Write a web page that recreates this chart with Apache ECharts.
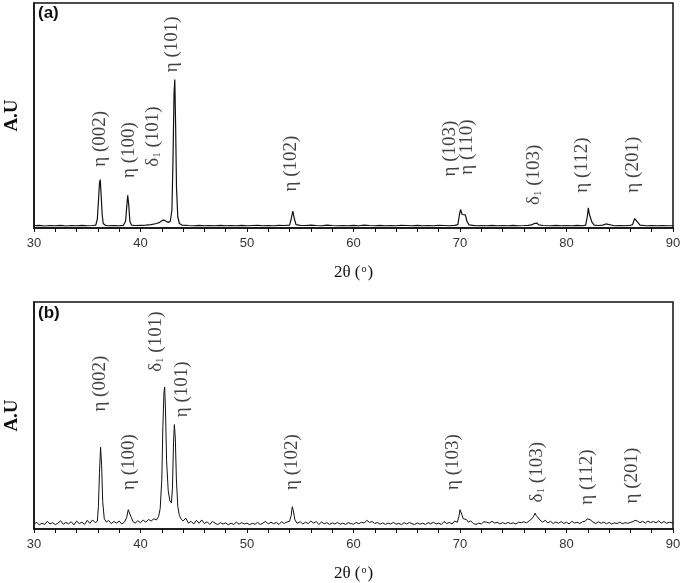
<!DOCTYPE html>
<html>
<head>
<meta charset="utf-8">
<script src="https://cdn.jsdelivr.net/npm/echarts@6/dist/echarts.min.js"></script>
<style>
  html, body { margin: 0; padding: 0; background: #fff; }
  #chart { width: 685px; height: 583px; }
</style>
</head>
<body>
<div id="chart"></div>
<script>
// scan (a): [2θ, intensity], intensity in arbitrary units 0..100
const scanA = [
  [30.0, 1.0], [30.5, 1.2], [31.0, 0.9], [31.5, 1.1], [32.0, 1.0], [32.5, 1.2], [33.0, 0.9], [33.5, 1.1],
  [34.0, 1.0], [34.5, 1.2], [35.0, 1.0], [35.5, 1.1], [35.8, 1.3], [35.95, 4], [36.05, 12], [36.15, 20],
  [36.22, 21.5], [36.3, 15], [36.4, 6], [36.5, 2], [36.7, 1.2], [37.0, 1.0], [37.5, 1.1], [38.0, 1.0],
  [38.4, 1.2], [38.6, 3], [38.7, 9], [38.8, 14.5], [38.9, 10], [39.0, 3], [39.15, 1.3], [39.5, 1.1],
  [40.0, 1.2], [40.5, 1.3], [41.0, 1.5], [41.5, 2.0], [41.8, 2.5], [42.0, 3.2], [42.2, 3.6], [42.4, 3.0],
  [42.6, 2.5], [42.8, 3.0], [42.95, 8], [43.05, 30], [43.15, 60], [43.22, 66], [43.3, 45], [43.38, 18],
  [43.5, 5], [43.65, 2], [43.9, 1.3], [44.5, 1.1], [45.0, 1.0], [45.5, 1.2], [46.0, 1.0], [46.5, 1.1],
  [47.0, 1.0], [47.5, 1.2], [48.0, 1.0], [48.5, 1.1], [49.0, 1.0], [49.5, 1.2], [50.0, 1.0], [50.5, 1.1],
  [51.0, 1.2], [51.5, 1.0], [52.0, 1.1], [52.5, 1.0], [53.0, 1.2], [53.5, 1.1], [54.0, 1.3], [54.15, 4],
  [54.3, 7.5], [54.45, 4], [54.6, 1.5], [55.0, 1.2], [55.5, 1.1], [56.0, 1.3], [56.5, 1.1], [57.0, 1.0],
  [57.5, 1.3], [58.0, 1.1], [58.5, 1.0], [59.0, 1.1], [59.5, 1.0], [60.0, 1.2], [60.5, 1.0], [61.0, 1.3],
  [61.5, 1.1], [62.0, 1.0], [62.5, 1.2], [63.0, 1.0], [63.5, 1.1], [64.0, 1.0], [64.5, 1.2], [65.0, 1.1],
  [65.5, 1.0], [66.0, 1.2], [66.5, 1.0], [67.0, 1.1], [67.5, 1.0], [68.0, 1.2], [68.5, 1.1], [69.0, 1.0],
  [69.5, 1.2], [69.8, 1.5], [69.95, 6], [70.05, 8.2], [70.2, 6], [70.35, 5.5], [70.5, 5.8], [70.65, 3],
  [70.85, 1.4], [71.2, 1.2], [71.5, 1.0], [72.0, 1.1], [72.5, 1.0], [73.0, 1.2], [73.5, 1.0], [74.0, 1.1],
  [74.5, 1.0], [75.0, 1.2], [75.5, 1.0], [76.0, 1.1], [76.4, 1.2], [76.7, 1.4], [77.0, 2.0], [77.2, 2.2],
  [77.4, 1.4], [77.8, 1.1], [78.5, 1.0], [79.0, 1.2], [79.5, 1.0], [80.0, 1.1], [80.5, 1.0], [81.0, 1.2],
  [81.5, 1.0], [81.8, 1.3], [81.95, 5], [82.05, 9], [82.15, 6], [82.25, 6.5], [82.4, 2.5], [82.6, 1.3],
  [83.0, 1.1], [83.4, 1.3], [83.55, 1.9], [83.7, 1.8], [83.85, 1.2], [84.5, 1.0], [85.0, 1.1], [85.5, 1.0],
  [86.0, 1.2], [86.2, 1.5], [86.4, 4.2], [86.55, 4.5], [86.7, 2.5], [86.9, 1.3], [87.5, 1.0], [88.0, 1.1],
  [88.5, 1.0], [89.0, 1.1], [89.5, 1.0], [90.0, 1.0]
];

// scan (b)
const scanB = [
  [30.0, 2.2], [30.25, 3.0], [30.5, 1.8], [30.75, 2.6], [31.0, 2.0], [31.25, 3.4], [31.5, 2.2], [31.75, 2.8],
  [32.0, 1.9], [32.25, 2.6], [32.5, 3.6], [32.75, 2.1], [33.0, 2.9], [33.25, 2.3], [33.5, 3.2], [33.75, 1.8],
  [34.0, 3.5], [34.25, 2.4], [34.5, 3.0], [34.75, 2.0], [35.0, 3.8], [35.25, 2.5], [35.5, 4.0], [35.75, 2.8],
  [35.95, 3.5], [36.05, 10], [36.15, 25], [36.25, 36], [36.35, 28], [36.45, 12], [36.6, 4.5], [36.8, 3.0],
  [37.0, 3.8], [37.25, 2.4], [37.5, 3.3], [37.75, 2.6], [38.0, 3.5], [38.25, 2.2], [38.5, 3.1], [38.7, 5.0],
  [38.85, 8.5], [38.95, 9.2], [39.1, 5.5], [39.3, 3.2], [39.5, 2.6], [39.75, 3.6], [40.0, 2.8], [40.25, 3.9],
  [40.5, 3.0], [40.75, 4.2], [41.0, 3.5], [41.25, 4.5], [41.5, 4.0], [41.7, 5.5], [41.85, 9], [42.0, 22],
  [42.1, 45], [42.2, 60], [42.27, 62.5], [42.35, 52], [42.45, 30], [42.6, 17], [42.75, 12.5], [42.9, 11.5],
  [43.0, 18], [43.1, 38], [43.18, 46], [43.27, 40], [43.37, 22], [43.5, 10], [43.65, 6], [43.8, 4.5],
  [44.0, 3.5], [44.25, 4.8], [44.5, 2.6], [44.75, 3.4], [45.0, 2.2], [45.25, 3.8], [45.5, 2.5], [45.75, 4.0],
  [46.0, 2.4], [46.25, 3.2], [46.5, 2.0], [46.75, 3.3], [47.0, 2.6], [47.25, 1.9], [47.5, 2.8], [47.75, 2.2],
  [48.0, 2.7], [48.25, 1.8], [48.5, 2.6], [48.75, 2.0], [49.0, 3.0], [49.25, 2.1], [49.5, 2.8], [49.75, 2.2],
  [50.0, 2.6], [50.25, 1.9], [50.5, 2.5], [50.75, 2.1], [51.0, 2.9], [51.25, 2.0], [51.5, 2.6], [51.75, 3.4],
  [52.0, 2.2], [52.25, 3.0], [52.5, 2.3], [52.75, 2.9], [53.0, 2.0], [53.25, 3.2], [53.5, 2.4], [53.75, 3.1],
  [54.0, 3.4], [54.15, 6], [54.25, 9.8], [54.35, 8], [54.5, 4], [54.7, 2.5], [55.0, 3.2], [55.25, 2.2],
  [55.5, 3.0], [55.75, 2.4], [56.0, 3.5], [56.25, 2.6], [56.5, 3.3], [56.75, 2.0], [57.0, 3.1], [57.25, 2.3],
  [57.5, 2.8], [57.75, 2.0], [58.0, 2.7], [58.25, 2.2], [58.5, 2.9], [58.75, 2.1], [59.0, 2.6], [59.25, 2.0],
  [59.5, 2.8], [59.75, 2.4], [60.0, 2.1], [60.25, 2.9], [60.5, 2.3], [60.75, 3.0], [61.0, 2.6], [61.25, 3.8],
  [61.5, 2.9], [61.75, 3.3], [62.0, 2.4], [62.25, 2.9], [62.5, 2.1], [62.75, 2.7], [63.0, 2.0], [63.25, 2.6],
  [63.5, 2.2], [63.75, 2.9], [64.0, 2.1], [64.25, 2.5], [64.5, 1.9], [64.75, 2.8], [65.0, 2.2], [65.25, 2.9],
  [65.5, 2.3], [65.75, 2.0], [66.0, 2.7], [66.25, 2.1], [66.5, 2.6], [66.75, 2.0], [67.0, 2.8], [67.25, 2.3],
  [67.5, 3.0], [67.75, 2.2], [68.0, 2.6], [68.25, 2.0], [68.5, 3.3], [68.75, 2.4], [69.0, 2.9], [69.25, 2.2],
  [69.5, 3.5], [69.75, 3.0], [69.9, 5.5], [70.0, 8.5], [70.1, 8.8], [70.2, 6], [70.3, 4.5], [70.45, 5.0],
  [70.6, 4.2], [70.8, 3.0], [71.0, 3.6], [71.25, 2.4], [71.5, 2.0], [71.75, 2.6], [72.0, 2.2], [72.25, 3.2],
  [72.5, 3.0], [72.75, 2.6], [73.0, 3.4], [73.25, 2.6], [73.5, 3.0], [73.75, 2.2], [74.0, 2.8], [74.25, 2.3],
  [74.5, 2.9], [74.75, 2.4], [75.0, 2.7], [75.25, 2.2], [75.5, 3.0], [75.75, 2.8], [76.0, 3.2], [76.25, 2.7],
  [76.5, 3.6], [76.75, 4.5], [76.9, 5.5], [77.05, 7], [77.15, 6], [77.3, 5.2], [77.5, 4], [77.75, 3.0],
  [78.0, 3.8], [78.25, 2.7], [78.5, 3.4], [78.75, 2.4], [79.0, 3.1], [79.25, 2.5], [79.5, 3.3], [79.75, 2.4],
  [80.0, 3.0], [80.25, 2.2], [80.5, 3.4], [80.75, 2.6], [81.0, 3.0], [81.25, 2.4], [81.5, 3.2], [81.75, 3.4],
  [81.95, 4.5], [82.1, 5.2], [82.25, 4.0], [82.5, 3.0], [82.75, 2.4], [83.0, 3.2], [83.25, 2.5], [83.5, 3.0],
  [83.75, 2.3], [84.0, 2.9], [84.25, 2.2], [84.5, 2.7], [84.75, 2.4], [85.0, 3.0], [85.25, 2.3], [85.5, 2.8],
  [85.75, 2.5], [86.0, 2.9], [86.25, 3.3], [86.45, 3.8], [86.65, 3.5], [86.9, 2.8], [87.15, 3.4], [87.4, 2.6],
  [87.65, 3.5], [87.9, 2.8], [88.15, 3.3], [88.4, 2.7], [88.65, 3.6], [88.9, 2.6], [89.15, 3.3], [89.4, 2.5],
  [89.65, 3.0], [90.0, 2.6]
];

// peak labels: text, 2θ of label, intensity where label text starts
const peakNamesA = ['η (002)', 'η (100)', 'δ{s|1} (101)', 'η (101)', 'η (102)', 'η (103)', 'η (110)', 'δ{s|1} (103)', 'η (112)', 'η (201)'];
const peakPosA = [36.2, 39.0, 41.2, 43.05, 54.2, 69.1, 70.75, 77.0, 81.5, 86.3];
const labelBaseA = [27, 22, 27, 69, 16, 22.7, 23.5, 10, 15.5, 15.5];

const peakNamesB = ['η (002)', 'η (100)', 'δ{s|1} (101)', 'η (101)', 'η (102)', 'η (103)', 'δ{s|1} (103)', 'η (112)', 'η (201)'];
const peakPosB = [36.2, 39.0, 41.5, 43.9, 54.3, 69.4, 77.3, 82.0, 86.2];
const labelBaseB = [51.5, 17, 69, 49, 17, 17, 11.5, 10.5, 11];

const xTicks = { min: 30, max: 90, interval: 10 };

const chart = echarts.init(document.getElementById('chart'));

const serif = 'Liberation Serif';
const sans = 'Liberation Sans';

function makeX (gridIndex) {
  return {
    type: 'value',
    gridIndex: gridIndex,
    min: xTicks.min,
    max: xTicks.max,
    interval: xTicks.interval,
    name: '2θ ({o|o})',
    nameLocation: 'middle',
    nameGap: 36,
    nameTextStyle: {
      fontFamily: serif,
      fontSize: 17,
      color: '#111',
      rich: { o: { fontFamily: serif, fontSize: 10, color: '#111', verticalAlign: 'top', padding: [0, 1, 8, 1] } }
    },
    axisLine: { show: true, onZero: false, lineStyle: { color: '#111', width: 1.5 } },
    axisTick: { show: true, inside: false, length: 4, lineStyle: { color: '#111' } },
    minorTick: { show: true, splitNumber: 5, length: 4, lineStyle: { color: '#111' } },
    axisLabel: { margin: 9, fontFamily: sans, fontSize: 13, color: '#333' },
    splitLine: { show: false }
  };
}

function makeY (gridIndex) {
  return {
    type: 'value',
    gridIndex: gridIndex,
    min: 0,
    max: 100,
    name: 'A.U',
    nameLocation: 'middle',
    nameGap: 12,
    nameRotate: 90,
    nameTextStyle: { fontFamily: serif, fontSize: 19, fontWeight: 'bold', color: '#111' },
    axisLine: { show: true, lineStyle: { color: '#111', width: 1.5 } },
    axisTick: { show: false },
    axisLabel: { show: false },
    splitLine: { show: false }
  };
}

function makeLabels (names, pos, base, idx) {
  return {
    type: 'scatter',
    xAxisIndex: idx,
    yAxisIndex: idx,
    symbolSize: 1,
    itemStyle: { color: 'rgba(0,0,0,0)' },
    silent: true,
    data: names.map((n, i) => ({ name: n, value: [pos[i], base[i]] })),
    label: {
      show: true,
      formatter: p => p.name,
      position: [0, 0],
      rotate: 90,
      align: 'left',
      verticalAlign: 'middle',
      fontFamily: serif,
      fontSize: 19,
      color: '#111',
      rich: { s: { fontFamily: serif, fontSize: 11, color: '#111', verticalAlign: 'bottom', padding: [7, 0, 0, 0] } }
    }
  };
}

const option = {
  backgroundColor: '#fff',
  animation: false,
  title: [
    { text: '(a)', left: 38, top: 5, padding: 0, textStyle: { fontFamily: sans, fontSize: 17, fontWeight: 'bold', color: '#111' } },
    { text: '(b)', left: 38, top: 305, padding: 0, textStyle: { fontFamily: sans, fontSize: 17, fontWeight: 'bold', color: '#111' } }
  ],
  grid: [
    { left: 34, right: 12, top: 3, height: 225, outerBoundsMode: 'none', show: true, borderColor: '#111', borderWidth: 1.5, backgroundColor: 'transparent' },
    { left: 34, right: 12, top: 302, height: 227, outerBoundsMode: 'none', show: true, borderColor: '#111', borderWidth: 1.5, backgroundColor: 'transparent' }
  ],
  xAxis: [makeX(0), makeX(1)],
  yAxis: [makeY(0), makeY(1)],
  series: [
    {
      type: 'line',
      xAxisIndex: 0,
      yAxisIndex: 0,
      data: scanA,
      showSymbol: false,
      silent: true,
      lineStyle: { color: '#111', width: 1.2 }
    },
    {
      type: 'line',
      xAxisIndex: 1,
      yAxisIndex: 1,
      data: scanB,
      showSymbol: false,
      silent: true,
      lineStyle: { color: '#111', width: 1 }
    },
    makeLabels(peakNamesA, peakPosA, labelBaseA, 0),
    makeLabels(peakNamesB, peakPosB, labelBaseB, 1)
  ]
};

chart.setOption(option);
</script>
</body>
</html>
